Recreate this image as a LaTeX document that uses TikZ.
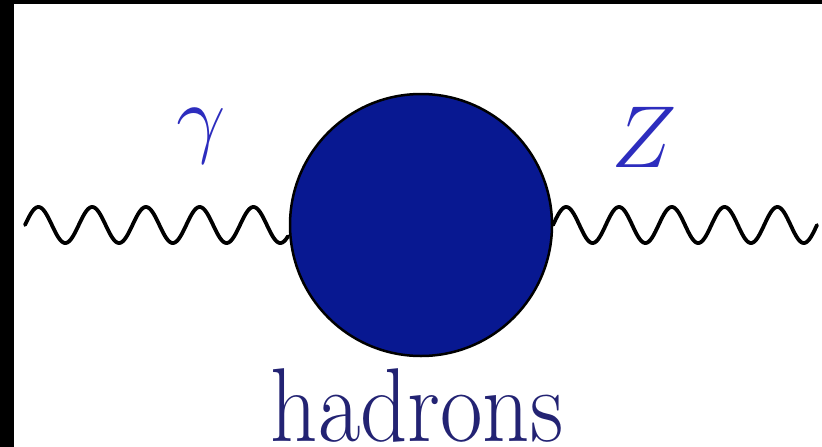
\RequirePackage{fix-cm}
\documentclass[tikz,border=0pt]{standalone}
\definecolor{blobblue}{RGB}{8,24,145}
\definecolor{labelblue}{RGB}{45,45,190}
\definecolor{textnavy}{RGB}{35,35,115}
\begin{document}
\begin{tikzpicture}[x=1pt,y=-1pt,
  photon/.style={line width=3.8pt, line join=round, line cap=round, draw=black},
  blobstyle/.style={circle, draw=black, line width=2.5pt, fill=blobblue, minimum size=262pt, inner sep=0pt},
  lbl/.style={inner sep=0pt, text=labelblue, font=\fontsize{88}{90}\selectfont},
  hadlbl/.style={inner sep=0pt, anchor=north, xscale=0.88, text=textnavy, font=\fontsize{105}{110}\selectfont}]
\useasboundingbox (0,0) rectangle (822,447);
\fill[white] (0,0) rectangle (822,447);
\fill[black] (0,0) rectangle (14,447);
\fill[black] (0,0) rectangle (822,4);
\coordinate (gL) at (25,225);
\coordinate (zL) at (553,225);
\draw[photon] plot[domain=0:263, samples=400] ([shift={(\x,{-18*sin(\x/53.75*360)})}]gL);
\draw[photon] plot[domain=0:264, samples=400] ([shift={(\x,{-18*sin(\x/52.8*360)})}]zL);
\node[blobstyle] (blob) at (421,225) {};
\node[lbl] (gamma) at (201,136) {$\gamma$};
\node[lbl] (zlab) at (644,137) {$Z$};
\node[hadlbl] (had) at (417,368) {hadrons};
\end{tikzpicture}
\end{document}
